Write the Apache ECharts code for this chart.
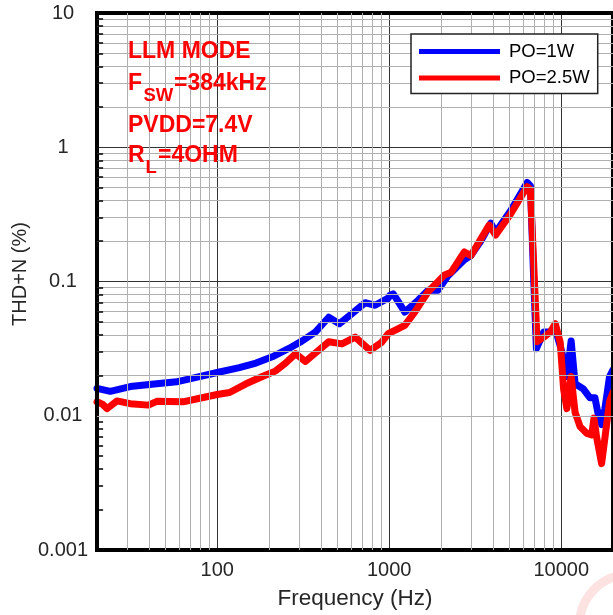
<!DOCTYPE html>
<html><head><meta charset="utf-8">
<script src="https://cdn.jsdelivr.net/npm/echarts@6/dist/echarts.min.js"></script>
<style>html,body{margin:0;padding:0;background:#fff;overflow:hidden}#c{width:613px;height:615px}</style>
</head><body><div id="c"></div>
<script>
// ---- data ----
const seriesNames = ['PO=1W', 'PO=2.5W'];
const blueFreq = [20, 23.9, 31.2, 44.5, 58, 69.2, 100, 134.5, 168, 209, 261, 312, 373, 445, 513, 606, 724, 827, 987, 1009, 1055, 1152, 1232, 1470, 1679, 1918, 2191, 2734, 2985, 3409, 3893, 4159, 5078, 6339, 6622, 6929, 7173, 7915, 8642, 9234, 10093, 10787, 11420, 12042, 13467, 14703, 15709, 16435, 17172, 17944, 19099, 20000];
const blueThd  = [0.0160, 0.0152, 0.0165, 0.0173, 0.0179, 0.0188, 0.0210, 0.0228, 0.0247, 0.0275, 0.0317, 0.0361, 0.0421, 0.0542, 0.0485, 0.0576, 0.0695, 0.0665, 0.0752, 0.0787, 0.081, 0.068, 0.0592, 0.0724, 0.0859, 0.0859, 0.110, 0.145, 0.156, 0.200, 0.272, 0.233, 0.336, 0.546, 0.515, 0.0986, 0.0316, 0.0421, 0.0421, 0.0445, 0.0298, 0.0196, 0.0361, 0.0173, 0.0158, 0.0136, 0.0136, 0.0101, 0.0086, 0.0113, 0.0196, 0.022];
const redFreq = [20, 21.5, 22.9, 26.1, 31.2, 39.8, 44.5, 63.3, 79.1, 100, 118, 147, 183, 219, 250, 286, 326, 373, 445, 531, 634, 774, 903, 987, 1079, 1232, 1407, 1679, 2097, 2289, 2734, 2985, 3811, 4159, 5078, 6339, 6622, 7240, 7915, 8642, 9234, 9868, 10323, 10787, 11420, 12042, 12870, 14068, 15036, 15501, 16069, 17172, 18185, 19099, 20000];
const redThd  = [0.0127, 0.0122, 0.0113, 0.0129, 0.0123, 0.0120, 0.0128, 0.0127, 0.0135, 0.0144, 0.0149, 0.0173, 0.0196, 0.0216, 0.0247, 0.0290, 0.0254, 0.0294, 0.0356, 0.0343, 0.0385, 0.0307, 0.0352, 0.0409, 0.0433, 0.0472, 0.0592, 0.0835, 0.112, 0.117, 0.166, 0.156, 0.263, 0.222, 0.318, 0.509, 0.485, 0.0356, 0.0385, 0.0421, 0.0485, 0.0352, 0.0158, 0.0113, 0.0196, 0.0106, 0.0083, 0.0074, 0.0072, 0.0096, 0.0069, 0.0044, 0.0078, 0.0128, 0.015];
const xTickValues = [100, 1000, 10000];
const xTickLabels = ['100', '1000', '10000'];
const yTickLabels = ['0.001', '0.01', '0.1', '1', '10'];

// ---- chart ----
const FONT = 'Liberation Sans, Arial, Helvetica, sans-serif';
const pairs = (xs, ys) => xs.map((x, i) => [x, ys[i]]);
const X_MIN = 20, X_MAX = 20000;

// minor log grid positions (2..9 x each decade)
const xMinor = [], yMinor = [], yStubs = [];
[10, 100, 1000, 10000].forEach(d => { for (let k = 2; k <= 9; k++) { const v = d * k; if (v > X_MIN && v < X_MAX) xMinor.push({ xAxis: v }); } });
[0.001, 0.01, 0.1, 1].forEach(d => { for (let k = 2; k <= 9; k++) { const v = +(d * k).toPrecision(3); yMinor.push({ yAxis: v }); yStubs.push([{ coord: [X_MIN, v] }, { coord: [X_MIN * 1.085, v] }]); } });

const chart = echarts.init(document.getElementById('c'), null, { renderer: 'canvas' });
chart.setOption({
  animation: false,
  backgroundColor: '#fff',
  grid: { left: 97, right: -3.5, top: 13, bottom: 63, show: true, borderColor: '#000', borderWidth: 4, backgroundColor: 'transparent', z: 5 },
  xAxis: {
    type: 'log', logBase: 10, min: X_MIN, max: X_MAX,
    axisLine: { show: false }, axisTick: { show: false },
    splitLine: { show: true, lineStyle: { color: '#333', width: 1 } },
    axisLabel: {
      show: true, margin: 10, fontFamily: FONT, fontSize: 20, color: '#262626',
      showMinLabel: false, showMaxLabel: false,
      formatter: v => { const i = xTickValues.findIndex(t => Math.abs(Math.log10(v) - Math.log10(t)) < 1e-6); return i >= 0 ? xTickLabels[i] : ''; }
    },
    name: 'Frequency (Hz)', nameLocation: 'middle', nameGap: 37,
    nameTextStyle: { fontFamily: FONT, fontSize: 22.5, color: '#262626' }
  },
  yAxis: {
    type: 'log', logBase: 10, min: 0.001, max: 10,
    axisLine: { show: false }, axisTick: { show: false },
    splitLine: { show: true, lineStyle: { color: '#333', width: 1 } },
    axisLabel: {
      show: true, margin: 34, align: 'center', fontFamily: FONT, fontSize: 20, color: '#262626',
      formatter: v => { const e = Math.round(Math.log10(v)); return yTickLabels[e + 3] || ''; }
    }
  },
  legend: {
    show: true, orient: 'vertical', left: 411, top: 34, z: 20,
    padding: [7, 8, 5, 8], itemGap: 5.6, itemWidth: 81, itemHeight: 5,
    backgroundColor: '#fff', borderColor: '#222', borderWidth: 1.5,
    icon: 'rect',
    itemStyle: { borderWidth: 0 },
    textStyle: { fontFamily: FONT, fontSize: 18.5, color: '#000', lineHeight: 21, padding: [0, 0, 0, 4] },
    data: seriesNames.map(n => ({ name: n, icon: 'rect' }))
  },
  series: [
    {
      type: 'line', name: 'grid', data: [], silent: true, z: 1,
      markLine: {
        silent: true, symbol: ['none', 'none'], animation: false,
        label: { show: false },
        lineStyle: { color: '#b0b0b0', width: 1, type: 'solid' },
        emphasis: { disabled: true },
        data: xMinor.concat(yMinor)
      }
    },
    {
      type: 'line', name: 'ticks', data: [], silent: true, z: 6,
      markLine: {
        silent: true, symbol: ['none', 'none'], animation: false,
        label: { show: false },
        lineStyle: { color: '#000', width: 1.5, type: 'solid' },
        emphasis: { disabled: true },
        data: yStubs
      }
    },
    {
      type: 'line', name: seriesNames[0], data: pairs(blueFreq, blueThd), showSymbol: false, z: 3,
      color: '#0000ff', itemStyle: { color: '#0000ff' }, lineStyle: { color: '#0000ff', width: 7, join: 'round', cap: 'round' }
    },
    {
      type: 'line', name: seriesNames[1], data: pairs(redFreq, redThd), showSymbol: false, z: 4,
      color: '#ff0000', itemStyle: { color: '#ff0000' }, lineStyle: { color: '#ff0000', width: 7, join: 'round', cap: 'round' }
    }
  ],
  graphic: [
    { type: 'text', silent: true, z: 10, x: 20, y: 274, rotation: Math.PI / 2,
      style: { text: 'THD+N (%)', fontFamily: FONT, fontSize: 20, fill: '#262626', align: 'center', verticalAlign: 'middle' } },
    { type: 'text', silent: true, z: 10, x: 128, y: 52, style: { text: 'LLM MODE', fontFamily: FONT, fontWeight: 'bold', fontSize: 23, fill: '#ff0000', verticalAlign: 'middle' } },
    { type: 'text', silent: true, z: 10, x: 128, y: 84, style: { text: 'F', fontFamily: FONT, fontWeight: 'bold', fontSize: 23, fill: '#ff0000', verticalAlign: 'middle' } },
    { type: 'text', silent: true, z: 10, x: 143.5, y: 96, style: { text: 'SW', fontFamily: FONT, fontWeight: 'bold', fontSize: 18.5, fill: '#ff0000', verticalAlign: 'middle' } },
    { type: 'text', silent: true, z: 10, x: 174, y: 84, style: { text: '=384kHz', fontFamily: FONT, fontWeight: 'bold', fontSize: 23, fill: '#ff0000', verticalAlign: 'middle' } },
    { type: 'text', silent: true, z: 10, x: 128, y: 126, style: { text: 'PVDD=7.4V', fontFamily: FONT, fontWeight: 'bold', fontSize: 23, fill: '#ff0000', verticalAlign: 'middle' } },
    { type: 'text', silent: true, z: 10, x: 128, y: 156, style: { text: 'R', fontFamily: FONT, fontWeight: 'bold', fontSize: 23, fill: '#ff0000', verticalAlign: 'middle' } },
    { type: 'text', silent: true, z: 10, x: 145.5, y: 168, style: { text: 'L', fontFamily: FONT, fontWeight: 'bold', fontSize: 18.5, fill: '#ff0000', verticalAlign: 'middle' } },
    { type: 'text', silent: true, z: 10, x: 158, y: 156, style: { text: '=4OHM', fontFamily: FONT, fontWeight: 'bold', fontSize: 23, fill: '#ff0000', verticalAlign: 'middle' } },
    { type: 'arc', silent: true, z: -1, shape: { cx: 630, cy: 625, r: 50.5, startAngle: Math.PI, endAngle: Math.PI * 1.5 },
      style: { stroke: '#fde2e2', lineWidth: 9, fill: null } }
  ]
});
</script>
</body></html>
